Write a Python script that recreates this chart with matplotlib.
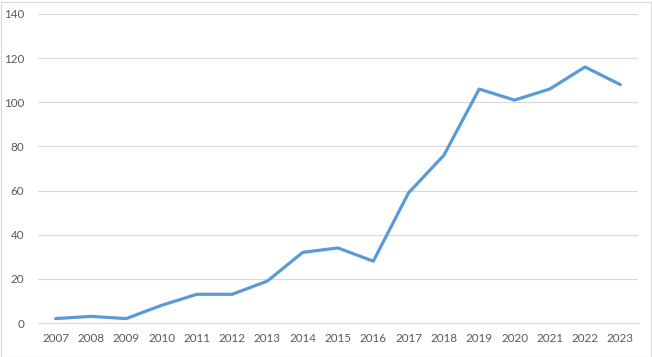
import matplotlib
matplotlib.use("Agg")
import matplotlib.pyplot as plt
from matplotlib.patches import Rectangle

years = ["2007", "2008", "2009", "2010", "2011", "2012", "2013", "2014", "2015",
         "2016", "2017", "2018", "2019", "2020", "2021", "2022", "2023"]
counts = [2, 3, 2, 8, 13, 13, 19, 32, 34, 28, 59, 76, 106, 101, 106, 116, 108]
y_ticks = [0, 20, 40, 60, 80, 100, 120, 140]

plt.rcParams["font.family"] = ["Lato", "DejaVu Sans"]

fig = plt.figure(figsize=(6.52, 3.57), dpi=100)
ax = fig.add_axes([38 / 652, 1 - 323 / 357, 600 / 652, 309 / 357])

x = list(range(len(years)))
ax.plot(x, counts, color="#5B9BD5", linewidth=2.3, solid_joinstyle="round",
        solid_capstyle="round", zorder=3)

ax.set_xlim(-0.5, len(years) - 0.5)
ax.set_ylim(0, 140)
ax.set_yticks(y_ticks)
ax.set_xticks(x)
ax.set_xticklabels(years)
ax.grid(axis="y", color="#D9D9D9", linewidth=0.8)
ax.set_axisbelow(True)

for s in ["top", "right", "left"]:
    ax.spines[s].set_visible(False)
ax.spines["bottom"].set_color("#D9D9D9")
ax.spines["bottom"].set_linewidth(0.8)
ax.tick_params(axis="both", length=0, colors="#595959", labelsize=8.4)
ax.tick_params(axis="y", pad=10)
ax.tick_params(axis="x", pad=7)

fig.patches.append(Rectangle((0.5 / 652, 0.5 / 357), 650 / 652, 355 / 357,
                             transform=fig.transFigure, fill=False,
                             edgecolor="#D9D9D9", linewidth=0.8))

fig.savefig("out.png", dpi=100)
